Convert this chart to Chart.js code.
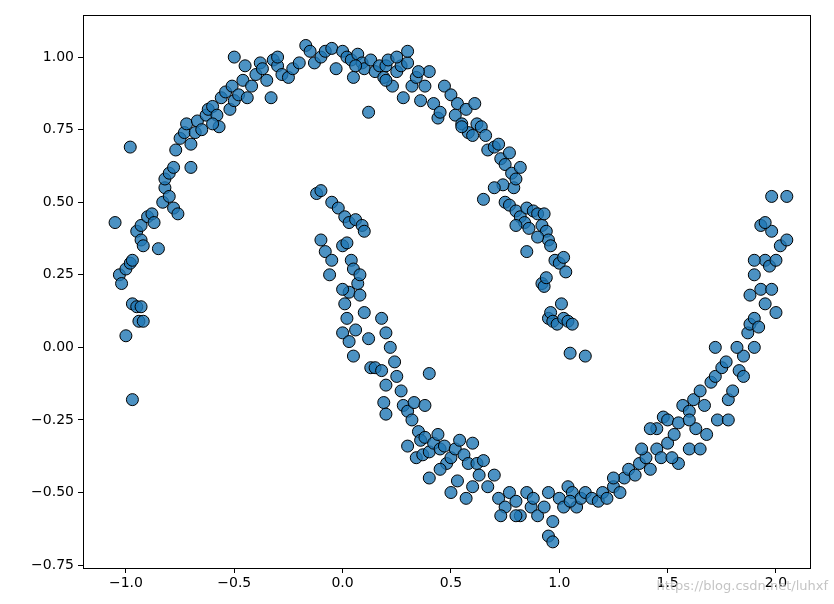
<!DOCTYPE html>
<html><head><meta charset="utf-8">
<script src="https://cdn.jsdelivr.net/npm/chart.js@4/dist/chart.umd.min.js"></script>
<style>html,body{margin:0;background:#fff}#wrap{width:834px;height:604px}</style>
</head><body><div id="wrap"><canvas id="c"></canvas></div>
<script>
var xTicks = [-1.0, -0.5, 0.0, 0.5, 1.0, 1.5, 2.0];
var yTicks = [-0.75, -0.5, -0.25, 0.0, 0.25, 0.5, 0.75, 1.0];
var upperMoon = [[-1.05,0.43],[-1.03,0.25],[-1.02,0.22],[-1.0,0.27],[-0.98,0.29],[-0.97,0.3],[-1.0,0.04],[-0.98,0.69],[-0.97,-0.18],[-0.97,0.15],[-0.95,0.14],[-0.94,0.09],[-0.93,0.14],[-0.92,0.09],[-0.95,0.4],[-0.93,0.37],[-0.92,0.35],[-0.93,0.42],[-0.9,0.45],[-0.88,0.46],[-0.87,0.43],[-0.85,0.34],[-0.83,0.5],[-0.82,0.55],[-0.82,0.58],[-0.8,0.6],[-0.8,0.52],[-0.78,0.48],[-0.76,0.46],[-0.78,0.62],[-0.77,0.68],[-0.75,0.72],[-0.73,0.74],[-0.72,0.77],[-0.7,0.7],[-0.7,0.62],[-0.68,0.74],[-0.67,0.78],[-0.65,0.75],[-0.63,0.8],[-0.62,0.82],[-0.6,0.83],[-0.58,0.8],[-0.57,0.76],[-0.56,0.86],[-0.54,0.88],[-0.52,0.82],[-0.51,0.9],[-0.5,1.0],[-0.5,0.85],[-0.48,0.87],[-0.46,0.92],[-0.44,0.86],[-0.42,0.9],[-0.4,0.94],[-0.38,0.98],[-0.37,0.96],[-0.35,0.92],[-0.33,0.86],[-0.32,0.99],[-0.3,0.97],[-0.28,0.94],[-0.25,0.93],[-0.23,0.96],[-0.2,0.98],[-0.17,1.04],[-0.15,1.02],[-0.13,0.98],[-0.1,1.0],[-0.08,1.02],[-0.05,1.03],[-0.03,0.96],[0.0,1.02],[0.02,1.0],[0.04,0.99],[0.05,0.93],[0.07,1.01],[0.09,0.98],[0.1,0.96],[0.12,0.81],[0.13,0.99],[0.15,0.95],[0.17,0.97],[0.19,0.93],[0.2,0.97],[0.21,0.99],[0.23,0.9],[0.25,0.95],[0.27,0.97],[0.28,0.86],[0.3,0.98],[0.3,1.02],[0.32,0.9],[0.34,0.93],[0.36,0.85],[0.38,0.9],[0.4,0.95],[0.42,0.84],[0.44,0.79],[0.45,0.81],[0.47,0.9],[0.5,0.87],[0.52,0.8],[0.53,0.84],[0.55,0.77],[0.57,0.82],[0.58,0.74],[0.6,0.73],[0.61,0.84],[0.62,0.77],[0.64,0.76],[0.66,0.73],[0.67,0.68],[0.7,0.69],[0.72,0.7],[0.73,0.65],[0.75,0.63],[0.77,0.67],[0.78,0.6],[0.79,0.55],[0.8,0.58],[0.82,0.62],[0.74,0.56],[0.75,0.5],[0.77,0.49],[0.8,0.47],[0.82,0.45],[0.84,0.43],[0.85,0.48],[0.86,0.41],[0.88,0.47],[0.9,0.46],[0.92,0.42],[0.93,0.46],[0.94,0.4],[0.95,0.37],[0.96,0.35],[0.98,0.3],[1.0,0.29],[1.02,0.31],[1.03,0.26],[0.92,0.22],[0.93,0.21],[0.94,0.24],[0.95,0.1],[0.96,0.12],[0.97,0.09],[0.99,0.08],[1.01,0.15],[1.02,0.1],[1.04,0.09],[1.06,0.08],[1.05,-0.02],[1.12,-0.03],[0.65,0.51],[0.85,0.33],[0.9,0.38],[0.8,0.42],[0.7,0.55],[0.55,0.76],[0.35,0.95],[-0.6,0.77],[-0.45,0.97],[-0.3,1.0],[0.06,0.97],[0.25,1.0],[0.2,0.92]];
var lowerMoon = [[-0.12,0.53],[-0.1,0.54],[-0.05,0.5],[-0.02,0.48],[0.01,0.45],[0.03,0.43],[0.06,0.44],[0.09,0.42],[0.1,0.4],[-0.1,0.37],[-0.08,0.33],[-0.05,0.3],[-0.06,0.25],[0.0,0.35],[0.02,0.36],[0.04,0.3],[0.05,0.27],[0.07,0.22],[0.08,0.25],[0.03,0.19],[0.0,0.2],[0.01,0.15],[0.02,0.1],[0.0,0.05],[0.03,0.02],[0.05,-0.03],[0.06,0.06],[0.1,0.12],[0.08,0.18],[0.12,0.03],[0.13,-0.07],[0.15,-0.07],[0.18,-0.08],[0.2,-0.13],[0.18,0.1],[0.2,0.05],[0.22,0.0],[0.24,-0.05],[0.25,-0.1],[0.27,-0.15],[0.19,-0.19],[0.2,-0.23],[0.28,-0.2],[0.3,-0.22],[0.32,-0.25],[0.33,-0.19],[0.35,-0.29],[0.36,-0.32],[0.38,-0.31],[0.4,-0.09],[0.38,-0.2],[0.3,-0.34],[0.34,-0.38],[0.37,-0.37],[0.4,-0.36],[0.42,-0.33],[0.44,-0.3],[0.45,-0.35],[0.47,-0.34],[0.48,-0.4],[0.5,-0.38],[0.52,-0.35],[0.54,-0.32],[0.56,-0.37],[0.58,-0.4],[0.6,-0.33],[0.62,-0.4],[0.63,-0.44],[0.4,-0.45],[0.45,-0.42],[0.5,-0.5],[0.53,-0.46],[0.57,-0.52],[0.6,-0.48],[0.65,-0.39],[0.67,-0.48],[0.7,-0.44],[0.72,-0.52],[0.75,-0.55],[0.77,-0.5],[0.8,-0.53],[0.82,-0.58],[0.85,-0.5],[0.87,-0.55],[0.9,-0.58],[0.93,-0.55],[0.95,-0.5],[0.97,-0.6],[1.0,-0.52],[1.02,-0.55],[1.04,-0.48],[1.06,-0.5],[1.08,-0.55],[1.1,-0.52],[1.12,-0.5],[1.15,-0.52],[1.18,-0.53],[1.2,-0.5],[1.22,-0.52],[0.95,-0.65],[0.97,-0.67],[0.73,-0.58],[0.8,-0.58],[0.88,-0.52],[1.25,-0.48],[1.28,-0.5],[1.3,-0.45],[1.32,-0.42],[1.35,-0.44],[1.37,-0.4],[1.4,-0.38],[1.42,-0.42],[1.45,-0.35],[1.47,-0.38],[1.5,-0.33],[1.45,-0.28],[1.48,-0.24],[1.5,-0.25],[1.53,-0.3],[1.55,-0.26],[1.57,-0.2],[1.6,-0.22],[1.62,-0.18],[1.65,-0.15],[1.67,-0.2],[1.7,-0.12],[1.72,-0.1],[1.75,-0.07],[1.77,-0.05],[1.55,-0.4],[1.6,-0.35],[1.63,-0.28],[1.68,-0.3],[1.73,-0.25],[1.78,-0.18],[1.8,-0.15],[1.83,-0.08],[1.85,-0.03],[1.82,0.0],[1.87,0.05],[1.88,0.08],[1.9,0.1],[1.92,0.07],[1.95,0.15],[1.93,0.2],[1.9,0.25],[1.95,0.3],[1.97,0.28],[2.0,0.3],[2.02,0.35],[2.05,0.37],[1.98,0.4],[1.93,0.42],[1.95,0.43],[1.98,0.52],[2.05,0.52],[1.9,0.3],[1.88,0.18],[1.98,0.2],[2.0,0.12],[1.85,-0.1],[1.72,0.0],[1.9,0.0],[1.78,-0.25],[1.65,-0.35],[1.6,-0.25],[1.42,-0.28],[1.38,-0.35],[1.52,-0.38],[1.25,-0.45],[1.05,-0.53]];

function toPts(a) { return a.map(function (p) { return { x: p[0], y: p[1] }; }); }
function fmt(v, d) { return (v < 0 ? "\u2212" : "") + Math.abs(v).toFixed(d); }

var frame = {
  id: "frame",
  afterDraw: function (c) {
    var a = c.chartArea, g = c.ctx;
    g.save(); g.strokeStyle = "#000"; g.lineWidth = 1;
    g.strokeRect(a.left + 0.5, a.top + 0.5, a.right - a.left, a.bottom - a.top);
    g.fillStyle = "rgba(190,190,190,0.9)"; g.font = "13px 'DejaVu Sans'"; g.textAlign = "right";
    g.fillText("https://blog.csdn.net/luhxf", 828, 590);
    g.restore();
  }
};

Chart.defaults.font.family = "'DejaVu Sans', sans-serif";
Chart.defaults.font.size = 14;
Chart.defaults.color = "#000";

new Chart(document.getElementById("c"), {
  type: "scatter",
  data: {
    datasets: [{
      data: toPts(upperMoon.concat(lowerMoon)),
      backgroundColor: "rgba(31,119,180,0.8)",
      borderColor: "#000",
      borderWidth: 1,
      pointRadius: 6,
      pointHoverRadius: 6
    }]
  },
  options: {
    responsive: true,
    maintainAspectRatio: false,
    animation: false,
    layout: { padding: { top: 15, right: 24, left: 0, bottom: 0 } },
    plugins: { legend: { display: false }, tooltip: { enabled: false } },
    scales: {
      x: {
        min: -1.198, max: 2.157,
        afterBuildTicks: function (s) { s.ticks = xTicks.map(function (v) { return { value: v }; }); },
        afterFit: function (s) { s.height = 36; },
        ticks: { callback: function (v) { return fmt(v, 1); }, padding: 2, maxRotation: 0 },
        grid: { drawOnChartArea: false, drawTicks: true, tickLength: 5, color: "#000" },
        border: { display: false }
      },
      y: {
        min: -0.76, max: 1.145,
        afterBuildTicks: function (s) { s.ticks = yTicks.map(function (v) { return { value: v }; }); },
        afterFit: function (s) { s.width = 83; },
        ticks: { callback: function (v) { return fmt(v, 2); }, padding: 4 },
        grid: { drawOnChartArea: false, drawTicks: true, tickLength: 5, color: "#000" },
        border: { display: false }
      }
    }
  },
  plugins: [frame]
});
</script></body></html>
